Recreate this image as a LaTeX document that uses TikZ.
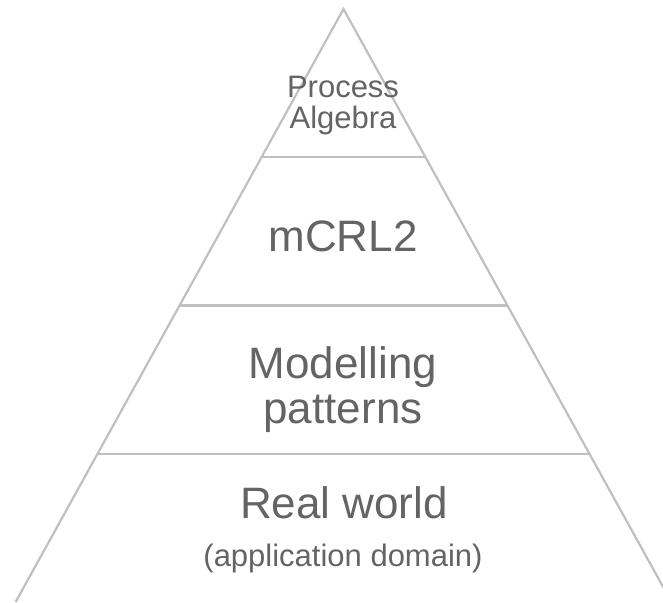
\documentclass[tikz,border=0pt]{standalone}
\usepackage{fontspec}
\setmainfont{Liberation Sans}
\usetikzlibrary{calc}
\definecolor{pyrline}{RGB}{192,192,192}
\definecolor{pyrtext}{RGB}{100,100,100}
\tikzset{
  layer/.style={text=pyrtext, anchor=base, align=center, inner sep=0pt},
  bigtext/.style={font=\fontsize{44}{45}\selectfont},
  smalltext/.style={font=\fontsize{31}{31}\selectfont},
  edge/.style={draw=pyrline, line width=2.2pt}
}
\begin{document}
\begin{tikzpicture}[x=1pt,y=-1pt]
\useasboundingbox (0,0) rectangle (663,602);
\clip (0,0) rectangle (663,602);

% outline of the pyramid
\coordinate (top) at (343.5,9);
\coordinate (bl) at (15.6,602);
\coordinate (br) at (671.4,602);
\draw[edge] (bl) -- (top) -- (br);

% the layers
\foreach \t in {0.25,0.5,0.75}
  \draw[edge] ($(top)!\t!(bl)$) -- ($(top)!\t!(br)$);

% base anchor sits on the last line
\node[layer,smalltext] (pa) at (343,128) {Process\\Algebra};
\node[layer,bigtext] (mcrl) at (343,251) {mCRL2};
\node[layer,bigtext] (mp) at (343,423) {Modelling\\patterns};
\node[layer,bigtext] (rw) at (344,518) {Real world};
\node[layer,smalltext] (ad) at (343,566) {(application domain)};
\end{tikzpicture}
\end{document}
